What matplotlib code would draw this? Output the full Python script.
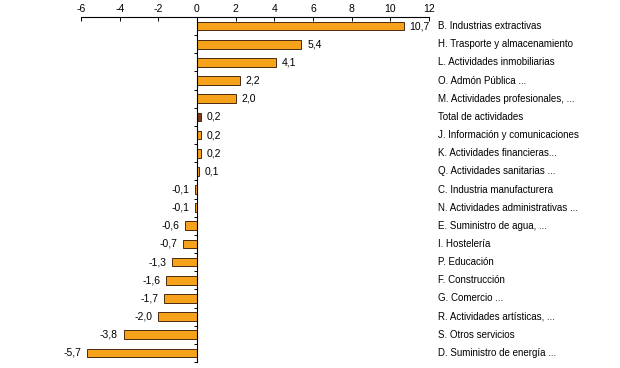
import numpy as np
import matplotlib.pyplot as plt

categorias = ["B. Industrias extractivas", "H. Trasporte y almacenamiento",
              "L. Actividades inmobiliarias", "O. Admón Pública ...",
              "M. Actividades profesionales, ...", "Total de actividades",
              "J. Información y comunicaciones", "K. Actividades financieras...",
              "Q. Actividades sanitarias ...", "C. Industria manufacturera",
              "N. Actividades administrativas ...", "E. Suministro de agua, ...",
              "I. Hostelería", "P. Educación", "F. Construcción",
              "G. Comercio ...", "R. Actividades artísticas, ...",
              "S. Otros servicios", "D. Suministro de energía ..."]
valores = [10.7, 5.4, 4.1, 2.2, 2.0, 0.2, 0.2, 0.2, 0.1, -0.1, -0.1,
           -0.6, -0.7, -1.3, -1.6, -1.7, -2.0, -3.8, -5.7]
xticks = [-6, -4, -2, 0, 2, 4, 6, 8, 10, 12]

plt.rcParams['font.family'] = ['Liberation Sans', 'DejaVu Sans']

fig = plt.figure(figsize=(6.2, 3.68), dpi=100)
ax = fig.add_axes([81 / 620, 1 - 362 / 368, 348 / 620, 345 / 368])

y = np.arange(len(valores))
colores = ['#7a3a18' if c.startswith("Total") else '#f7a21b' for c in categorias]
ax.barh(y, valores, height=0.48, color=colores, edgecolor='#4a2a10', linewidth=0.7)

for yi, v, c in zip(y, valores, categorias):
    txt = f"{v:.1f}".replace('.', ',')
    if v >= 0:
        ax.text(v + 0.3, yi, txt, va='center', ha='left', fontsize=7.5)
    else:
        ax.text(v - 0.3, yi, txt, va='center', ha='right', fontsize=7.5)
    ax.text(12.45, yi, c, va='center', ha='left', fontsize=7, clip_on=False)

ax.set_xlim(-6, 12)
ax.set_ylim(len(valores) - 0.5, -0.5)
ax.xaxis.tick_top()
ax.set_xticks(xticks)
ax.set_xticklabels([str(t) for t in xticks], fontsize=7.5)
ax.tick_params(axis='x', direction='in', length=3, width=0.7, pad=2)

for s in ['right', 'bottom']:
    ax.spines[s].set_visible(False)
ax.spines['top'].set_linewidth(0.8)
ax.spines['left'].set_position(('data', 0))
ax.spines['left'].set_linewidth(0.8)
ax.set_yticks(np.arange(len(valores) + 1) - 0.5)
ax.set_yticklabels([])
ax.tick_params(axis='y', direction='out', length=2.5, width=0.7)

fig.savefig('out.png', dpi=100)
